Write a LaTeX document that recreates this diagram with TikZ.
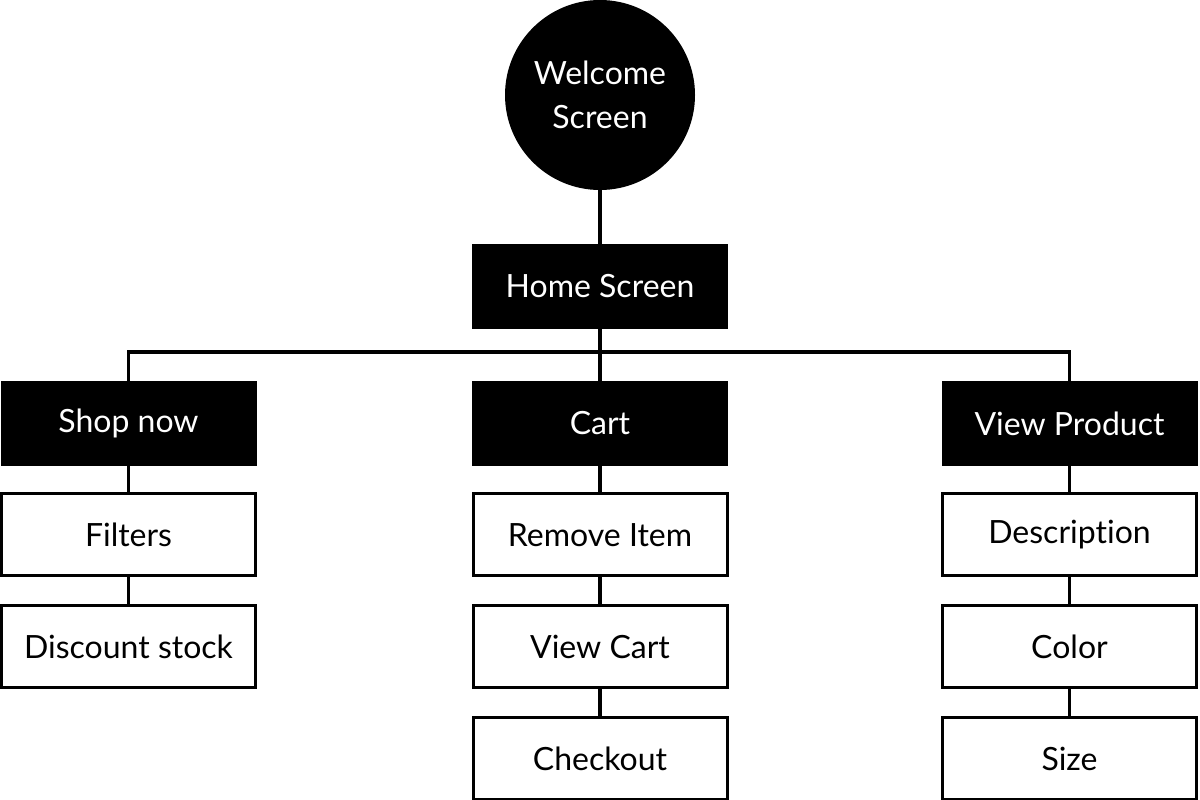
\documentclass[tikz,border=0pt]{standalone}
\usepackage{fontspec}
\setmainfont{Lato}[Ligatures={NoCommon,NoRare},Contextuals=NoAlternate]
\usetikzlibrary{positioning}
\tikzset{
  screen/.style={fill=black, text=white, minimum width=256pt, minimum height=85pt, inner sep=0pt},
  feature/.style={draw=black, line width=3pt, fill=white, minimum width=254pt, minimum height=82pt, inner sep=0pt},
  link/.style={line width=3.2pt}
}
\begin{document}
\begin{tikzpicture}[x=1pt, y=-1pt, font=\fontsize{32}{38}\selectfont, node distance=27pt]
  \useasboundingbox (0,0) rectangle (1200,800);
  % top of the tree
  \node[circle, fill=black, text=white, minimum size=190pt, inner sep=0pt, align=center] (welcome) at (600,95) {Welcome\\[6pt]Screen};
  \node[screen] (home) at (600,286.5) {Home Screen};
  \coordinate (bus) at (600,352);

  % main sections
  \node[screen] (shop) at (128.5,423.5) {Shop now};
  \node[screen] (cart) at (600,423.5) {Cart};
  \node[screen] (viewp) at (1069.5,423.5) {View Product};

  % features
  \node[feature, below=26pt of shop] (filters) {Filters};
  \node[feature, below=of filters] (discount) {Discount stock};

  \node[feature, below=26pt of cart] (remove) {Remove Item};
  \node[feature, below=of remove] (viewcart) {View Cart};
  \node[feature, below=of viewcart] (checkout) {Checkout};

  \node[feature, below=26pt of viewp] (desc) {Descript\kern0pt ion};
  \node[feature, below=of desc] (color) {Color};
  \node[feature, below=of color] (size) {Size};

  % connectors
  \draw[link] (welcome.south) -- (home.north);
  \draw[link] (home.south) -- (cart.north);
  \draw[link] (shop.north) |- (bus) -| (viewp.north);
  \draw[link] (shop.south) -- (filters.north);
  \draw[link] (filters.south) -- (discount.north);
  \draw[link] (cart.south) -- (remove.north);
  \draw[link] (remove.south) -- (viewcart.north);
  \draw[link] (viewcart.south) -- (checkout.north);
  \draw[link] (viewp.south) -- (desc.north);
  \draw[link] (desc.south) -- (color.north);
  \draw[link] (color.south) -- (size.north);
\end{tikzpicture}
\end{document}
